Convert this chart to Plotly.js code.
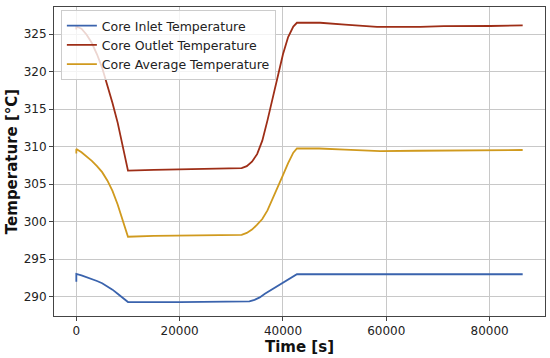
<!DOCTYPE html>
<html>
<head>
<meta charset="utf-8">
<script src="https://cdn.plot.ly/plotly-3.0.1.min.js"></script>
<style>html,body{margin:0;padding:0;background:#fff}#chart{width:550px;height:358px}</style>
</head>
<body>
<div id="chart"></div>
<script>
// Time [s] and temperature [°C]
const inletTime = [0, 1, 1000, 2000, 3000, 4000, 5000, 6000, 7000, 8000, 9000, 10000, 20000, 32500, 33500, 34500, 35500, 36500, 37500, 38500, 39500, 40500, 41500, 42700, 50000, 60000, 70000, 80000, 86400];
const inletTemp = [292.0, 293.05, 292.85, 292.62, 292.38, 292.1, 291.8, 291.42, 290.95, 290.4, 289.85, 289.3, 289.3, 289.3, 289.38, 289.58, 289.92, 290.4, 290.82, 291.23, 291.65, 292.08, 292.5, 293.0, 293.0, 293.0, 293.0, 293.0, 293.0];

const outletTime = [0, 1, 1000, 2000, 3000, 4000, 5000, 6000, 7000, 8000, 9000, 10000, 15000, 20000, 25000, 32000, 33000, 34000, 35000, 36000, 37000, 38000, 39000, 40000, 41000, 42000, 42700, 47200, 52000, 56000, 58200, 66600, 71100, 80100, 86400];
const outletTemp = [325.6, 326.0, 325.7, 324.9, 323.8, 322.3, 320.5, 318.3, 315.8, 313.2, 310.0, 306.8, 306.9, 307.0, 307.05, 307.15, 307.4, 308.0, 309.0, 310.8, 313.5, 316.5, 319.5, 322.3, 324.6, 326.0, 326.5, 326.5, 326.25, 326.0, 325.95, 325.95, 326.05, 326.07, 326.15];

const averageTime = [0, 1, 1000, 2000, 3000, 4000, 5000, 6000, 7000, 8000, 9000, 10000, 15000, 20000, 25000, 32000, 33000, 34000, 35000, 36000, 37000, 38000, 39000, 40000, 41000, 42000, 42700, 47000, 52000, 58800, 66000, 80100, 86400];
const averageTemp = [309.1, 309.7, 309.25, 308.7, 308.1, 307.4, 306.6, 305.5, 304.1, 302.3, 300.1, 298.0, 298.1, 298.15, 298.2, 298.25, 298.5, 298.95, 299.6, 300.35, 301.5, 303.0, 304.6, 306.2, 307.8, 309.2, 309.75, 309.75, 309.6, 309.4, 309.45, 309.52, 309.55];

const seriesNames = ["Core Inlet Temperature", "Core Outlet Temperature", "Core Average Temperature"];
const xTicks = [0, 20000, 40000, 60000, 80000];
const yTicks = [290, 295, 300, 305, 310, 315, 320, 325];

const colors = ["#3a63ad", "#9e2e17", "#d09a1e"];

const traces = [
  {x: inletTime, y: inletTemp, name: seriesNames[0], mode: "lines", line: {color: colors[0], width: 1.8}},
  {x: outletTime, y: outletTemp, name: seriesNames[1], mode: "lines", line: {color: colors[1], width: 1.8}},
  {x: averageTime, y: averageTemp, name: seriesNames[2], mode: "lines", line: {color: colors[2], width: 1.8}}
];

const font = {family: "DejaVu Sans, sans-serif", size: 12, color: "#222"};
const titleFont = {family: "DejaVu Sans, sans-serif", size: 15, color: "#111"};

const layout = {
  width: 550, height: 358,
  margin: {l: 54, r: 5, t: 7, b: 42},
  paper_bgcolor: "#fff", plot_bgcolor: "#fff",
  font: font,
  showlegend: true,
  legend: {
    x: 0.014, y: 0.99, xanchor: "left", yanchor: "top",
    bgcolor: "rgba(255,255,255,0.8)", bordercolor: "#cccccc", borderwidth: 1,
    font: {family: "DejaVu Sans, sans-serif", size: 12.5, color: "#222"},
    tracegroupgap: 0, itemwidth: 30
  },
  xaxis: {
    range: [-4320, 90720],
    tickvals: xTicks, ticktext: xTicks.map(String),
    showgrid: true, gridcolor: "#c8c8c8", gridwidth: 1,
    zeroline: false,
    showline: true, mirror: true, linecolor: "#444", linewidth: 1,
    ticks: "outside", ticklen: 4, tickcolor: "#444",
    title: {text: "<b>Time [s]</b>", font: titleFont, standoff: 2}
  },
  yaxis: {
    range: [287.44, 328.6],
    tickvals: yTicks, ticktext: yTicks.map(String),
    showgrid: true, gridcolor: "#c8c8c8", gridwidth: 1,
    zeroline: false,
    showline: true, mirror: true, linecolor: "#444", linewidth: 1,
    ticks: "outside", ticklen: 4, tickcolor: "#444",
    title: {text: "<b>Temperature [°C]</b>", font: titleFont, standoff: 2}
  }
};

Plotly.newPlot("chart", traces, layout, {displayModeBar: false, staticPlot: true});
</script>
</body>
</html>
